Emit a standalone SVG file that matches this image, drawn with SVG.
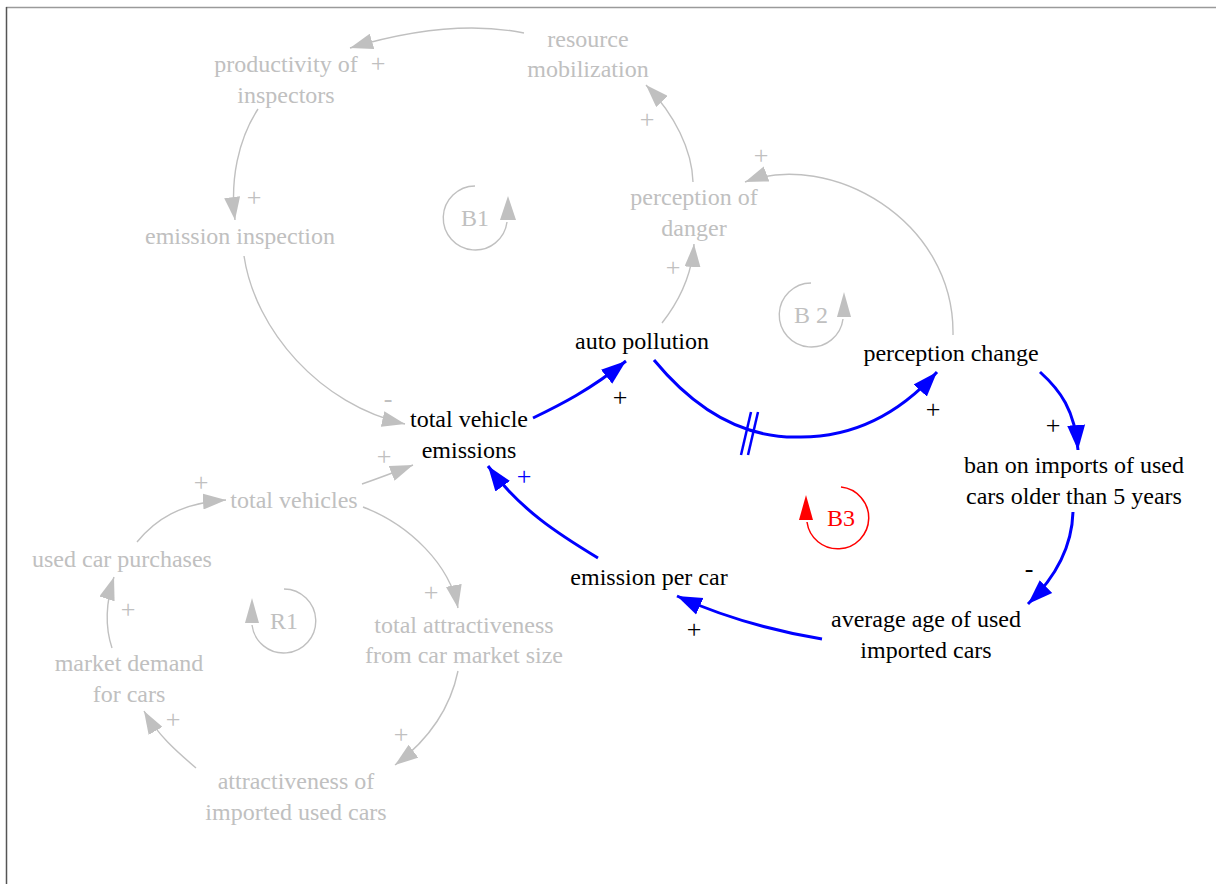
<svg xmlns="http://www.w3.org/2000/svg" width="1216" height="884" viewBox="0 0 1216 884" font-family="'Liberation Serif', 'Times New Roman', Times, serif">
<style>
text{font-family:'Liberation Serif','Times New Roman',Times,serif;font-size:24px;text-anchor:middle}
.s{font-size:26px}
.g{fill:#c0c0c0}
.k{fill:#000}
.b{fill:#0000ff}
.r{fill:#ff0000}
.cg{fill:none;stroke:#c0c0c0;stroke-width:1.4}
.cb{fill:none;stroke:#0000ff;stroke-width:3}
.cr{fill:none;stroke:#ff0000;stroke-width:1.5}
</style>
<defs>
<marker id="ag" markerUnits="userSpaceOnUse" markerWidth="24" markerHeight="16" refX="23" refY="8" orient="auto" viewBox="0 0 24 16"><path d="M0,0 L23,8 L0,16 z" fill="#c0c0c0"/></marker>
<marker id="ab" markerUnits="userSpaceOnUse" markerWidth="26" markerHeight="20" refX="25" refY="10" orient="auto" viewBox="0 0 26 20"><path d="M0,1 L25,10 L0,19 z" fill="#0000ff"/></marker>
</defs>
<rect x="0" y="0" width="1216" height="884" fill="#fff"/>
<line x1="6" y1="7.5" x2="1216" y2="7.5" stroke="#9a9a9a" stroke-width="1.5"/>
<line x1="6.5" y1="7" x2="6.5" y2="884" stroke="#555" stroke-width="1.5"/>

<g id="connectors">
<path class="cg" marker-end="url(#ag)" d="M524,33 Q450,18 350,48"/>
<path class="cg" marker-end="url(#ag)" d="M258,109 C238,140 230,180 235,220"/>
<path class="cg" marker-end="url(#ag)" d="M244,256 C255,330 320,405 405,424"/>
<path class="cg" marker-end="url(#ag)" d="M693,182 C692,150 675,115 646,85"/>
<path class="cg" marker-end="url(#ag)" d="M662,323 C680,300 692,275 694,244"/>
<path class="cg" marker-end="url(#ag)" d="M953,335 C955,220 830,150 745,182"/>
<path class="cg" marker-end="url(#ag)" d="M362,484 Q385,476 413,465"/>
<path class="cg" marker-end="url(#ag)" d="M137,542 C155,520 180,503 226,500"/>
<path class="cg" marker-end="url(#ag)" d="M363,507 C410,525 450,565 458,608"/>
<path class="cg" marker-end="url(#ag)" d="M458,671 C452,700 435,735 395,765"/>
<path class="cg" marker-end="url(#ag)" d="M196,768 C175,750 158,735 144,711"/>
<path class="cg" marker-end="url(#ag)" d="M112,648 C106,630 105,605 114,577"/>

<path class="cb" marker-end="url(#ab)" d="M533,418 C560,405 590,390 626,361"/>
<path class="cb" marker-end="url(#ab)" d="M654,360 Q720,440 801,437 Q878,437 937,372"/>
<line x1="751" y1="412" x2="741" y2="455" stroke="#0000ff" stroke-width="2.5"/>
<line x1="758" y1="412" x2="748" y2="455" stroke="#0000ff" stroke-width="2.5"/>
<path class="cb" marker-end="url(#ab)" d="M1040,372 C1060,390 1075,410 1078,450"/>
<path class="cb" marker-end="url(#ab)" d="M1073,512 C1072,545 1058,575 1028,604"/>
<path class="cb" marker-end="url(#ab)" d="M822,639 C780,632 730,620 677,596"/>
<path class="cb" marker-end="url(#ab)" d="M598,558 C560,535 520,510 488,466"/>

<text class="g s" x="378" y="72">+</text>
<text class="g s" x="254" y="206">+</text>
<text class="g s" x="388" y="407">-</text>
<text class="g s" x="647" y="128">+</text>
<text class="g s" x="761" y="164">+</text>
<text class="g s" x="673" y="276">+</text>
<text class="g s" x="384" y="465">+</text>
<text class="g s" x="201" y="491">+</text>
<text class="g s" x="128" y="618">+</text>
<text class="g s" x="431" y="601">+</text>
<text class="g s" x="401" y="743">+</text>
<text class="g s" x="173" y="728">+</text>
<text class="k s" x="620" y="406">+</text>
<text class="k s" x="933" y="418">+</text>
<text class="k s" x="1053" y="434">+</text>
<text class="k s" x="1029" y="577">-</text>
<text class="k s" x="694" y="638">+</text>
<text class="b s" x="524" y="485">+</text>
</g>

<g id="loop-B1">
<path class="cg" d="M475,186 A32,32 0 1 0 507,222"/>
<polygon points="500,220 516,220 508,196" fill="#c0c0c0"/>
<text class="g" x="475" y="226">B1</text>
</g>
<g id="loop-B2">
<path class="cg" d="M811,283 A32,32 0 1 0 843,319"/>
<polygon points="837,317 851,317 844,292" fill="#c0c0c0"/>
<text class="g" x="811" y="323">B 2</text>
</g>
<g id="loop-B3">
<path class="cr" d="M841,487 A31,31 0 1 1 807,522"/>
<polygon points="799,520 813,520 806,495" fill="#ff0000"/>
<text class="r" x="841" y="526">B3</text>
</g>
<g id="loop-R1">
<path class="cg" d="M284,589 A32,32 0 1 1 252,625"/>
<polygon points="245,623 259,623 252,598" fill="#c0c0c0"/>
<text class="g" x="284" y="629">R1</text>
</g>

<g id="resource-mobilization"><text class="g" x="588" y="47">resource</text><text class="g" x="588" y="77">mobilization</text></g>
<g id="productivity-of-inspectors"><text class="g" x="286" y="72">productivity of</text><text class="g" x="286" y="103">inspectors</text></g>
<g id="emission-inspection"><text class="g" x="240" y="244">emission inspection</text></g>
<g id="perception-of-danger"><text class="g" x="694" y="205">perception of</text><text class="g" x="694" y="236">danger</text></g>
<g id="auto-pollution"><text class="k" x="642" y="349">auto pollution</text></g>
<g id="perception-change"><text class="k" x="951" y="361">perception change</text></g>
<g id="total-vehicle-emissions"><text class="k" x="469" y="427">total vehicle</text><text class="k" x="469" y="458">emissions</text></g>
<g id="total-vehicles"><text class="g" x="294" y="508">total vehicles</text></g>
<g id="used-car-purchases"><text class="g" x="122" y="567">used car purchases</text></g>
<g id="total-attractiveness"><text class="g" x="464" y="633">total attractiveness</text><text class="g" x="464" y="663">from car market size</text></g>
<g id="market-demand"><text class="g" x="129" y="671">market demand</text><text class="g" x="129" y="702">for cars</text></g>
<g id="attractiveness-imported"><text class="g" x="296" y="789">attractiveness of</text><text class="g" x="296" y="820">imported used cars</text></g>
<g id="emission-per-car"><text class="k" x="649" y="585">emission per car</text></g>
<g id="ban-on-imports"><text class="k" x="1074" y="473">ban on imports of used</text><text class="k" x="1074" y="504">cars older than 5 years</text></g>
<g id="average-age"><text class="k" x="926" y="627">average age of used</text><text class="k" x="926" y="658">imported cars</text></g>
</svg>
